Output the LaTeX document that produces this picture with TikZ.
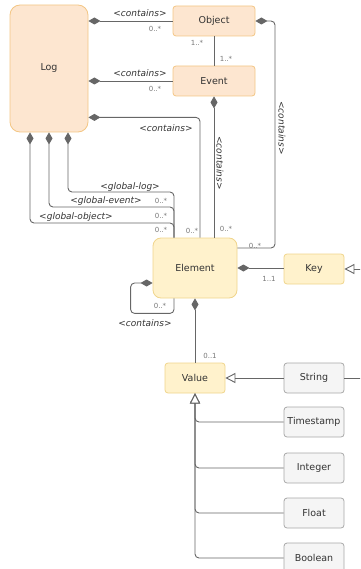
\documentclass[tikz,border=0pt]{standalone}
\usepackage{fontspec}
\setmainfont{DejaVu Sans}
\usetikzlibrary{arrows.meta}
\definecolor{pfill}{HTML}{FDE6D0}
\definecolor{pdraw}{HTML}{F3C684}
\definecolor{yfill}{HTML}{FFF2CC}
\definecolor{ydraw}{HTML}{F0D58C}
\definecolor{gfill}{HTML}{F5F5F5}
\definecolor{gdraw}{HTML}{A8A8A8}
\definecolor{lc}{HTML}{666666}
\definecolor{txt}{HTML}{333333}
\definecolor{mc}{HTML}{777777}
\begin{document}
\begin{tikzpicture}[x=1pt,y=-1pt,
  box/.style={draw, rounded corners=3pt, minimum width=60pt, minimum height=30pt, inner sep=0pt,
    font=\fontsize{9.5}{11}\selectfont, text=txt, line width=0.8pt},
  peach/.style={box, fill=pfill, draw=pdraw},
  yel/.style={box, fill=yfill, draw=ydraw},
  gry/.style={box, fill=gfill, draw=gdraw},
  conn/.style={draw=lc, line width=0.9pt, rounded corners=4pt},
  comp/.style={conn, {Diamond[length=12pt,width=7pt,fill=lc]}-},
  genend/.style={conn, -{Triangle[open,length=10pt,width=10pt,fill=white]}},
  genstart/.style={conn, {Triangle[open,length=10pt,width=10pt,fill=white]}-},
  lbl/.style={font=\fontsize{9}{10}\selectfont\itshape, text=txt, inner sep=0pt},
  mult/.style={font=\fontsize{7}{8}\selectfont, text=mc, inner sep=0pt}]
\clip (0,0) rectangle (360,569);
% classes
\node[peach, rounded corners=10pt, minimum width=78pt, minimum height=127pt] (Log) at (49,68.5) {Log};
\node[peach, minimum width=82pt] (Object) at (214,21) {Object};
\node[peach, minimum width=82pt] (Event) at (214,81) {Event};
\node[yel, rounded corners=8pt, minimum width=84pt, minimum height=60pt] (Element) at (195,268) {Element};
\node[yel] (Key) at (314,269) {Key};
\node[yel] (Value) at (195,378) {Value};
\node[gry] (String) at (314,378) {String};
\node[gry] (Timestamp) at (314,422) {Timestamp};
\node[gry] (Integer) at (314,468) {Integer};
\node[gry] (Float) at (314,513) {Float};
\node[gry] (Boolean) at (314,558) {Boolean};
% helper coordinates
\coordinate (oc) at (275,248);
\coordinate (glog) at (174,192);
\coordinate (gevt) at (174,207);
\coordinate (gobj) at (174,223);
% connectors
\draw[comp] (Log.east |- Object.west) -- (Object.west);
\draw[comp] (Log.east |- Event.west) -- (Event.west);
\draw[conn] (Object.south) -- (Event.north);
\draw[comp] ([yshift=15pt]Log.south east) -| ([xshift=5pt]Element.north);
\draw[comp] (Event.south) -- (Event.south |- Element.north);
\draw[comp] (Object.east) -| (oc) -- (oc -| Element.east);
\draw[comp] ([xshift=19pt]Log.south) |- (glog) -- (glog |- Element.north);
\draw[comp] (Log.south) |- (gevt) -- (gevt |- Element.north);
\draw[comp] ([xshift=-19pt]Log.south) |- (gobj) -- (gobj |- Element.north);
\draw[comp] (Element.east) -- (Key.west |- Element.east);
\draw[genstart] (Key.east) -- ++(20,0);
\draw[comp] ([yshift=-15pt]Element.west) -- ++(-22,0) |- ([xshift=-21pt,yshift=-15pt]Element.south) -- ([xshift=-21pt]Element.south);
\draw[comp] (Element.south) -- (Value.north);
\draw[genend] (String.west) -- (Value.east);
\draw[conn] (String.east) -- ++(20,0);
\draw[genend] (Timestamp.west) -| (Value.south);
\draw[genend] (Integer.west) -| (Value.south);
\draw[genend] (Float.west) -| (Value.south);
\draw[genend] (Boolean.west) -| (Value.south);
% labels
\node[lbl] (c1) at (140,13) {<contains>};
\node[mult] (m1) at (155,29) {0..*};
\node[lbl] (c2) at (140,73) {<contains>};
\node[mult] (m2) at (155,89) {0..*};
\node[mult] (m3) at (197,43) {1..*};
\node[mult] (m4) at (226,59) {1..*};
\node[lbl] (c3) at (166,128) {<contains>};
\node[mult] (m5) at (192,231) {0..*};
\node[lbl, rotate=-90] (c4) at (220,163) {<contains>};
\node[mult] (m6) at (226,229) {0..*};
\node[lbl, rotate=-90] (c5) at (282,128) {<contains>};
\node[mult] (m7) at (255,246) {0..*};
\node[lbl] (g1) at (130,187) {<global-log>};
\node[lbl] (g2) at (106,201) {<global-event>};
\node[lbl] (g3) at (76,217) {<global-object>};
\node[mult] (m8) at (161,201) {0..*};
\node[mult] (m9) at (161,216) {0..*};
\node[mult] (m10) at (161,230) {0..*};
\node[mult] (m11) at (269,279) {1..1};
\node[mult] (m12) at (160,306) {0..*};
\node[lbl] (c6) at (145,323) {<contains>};
\node[mult] (m13) at (210,356) {0..1};
\end{tikzpicture}
\end{document}
